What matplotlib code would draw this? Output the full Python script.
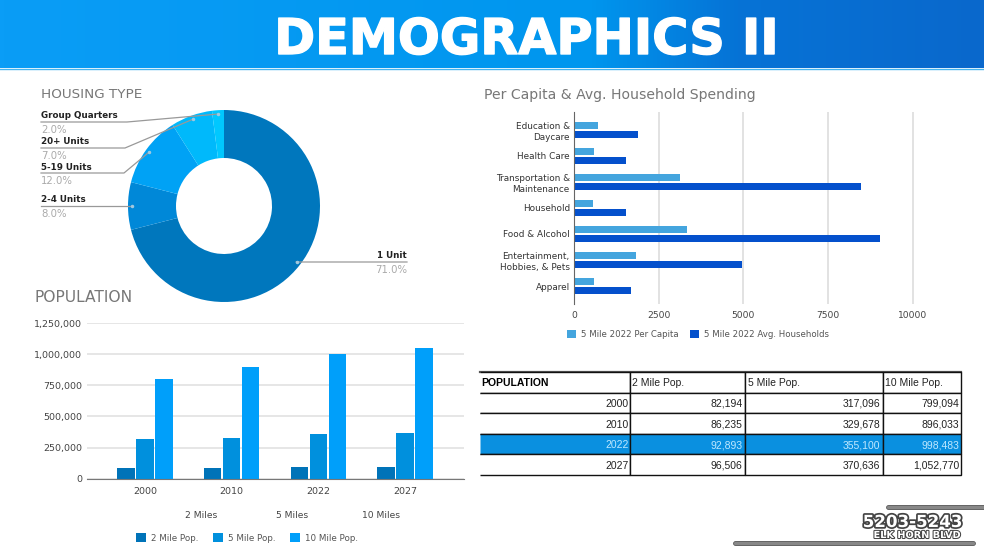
import numpy as np
import matplotlib
matplotlib.use("Agg")
import matplotlib.pyplot as plt
import matplotlib.patheffects as pe
from matplotlib.colors import LinearSegmentedColormap

W, H = 984, 555

# housing type
housing_labels = ["1 Unit", "2-4 Units", "5-19 Units", "20+ Units", "Group Quarters"]
housing_values = [71.0, 8.0, 12.0, 7.0, 2.0]
housing_colors = ["#0077bd", "#0088d8", "#00a2f5", "#00b9fb", "#00c8ff"]

# spending
spend_labels = ["Education &\nDaycare", "Health Care", "Transportation &\nMaintenance", "Household",
                "Food & Alcohol", "Entertainment,\nHobbies, & Pets", "Apparel"]
per_capita = [700, 580, 3140, 560, 3350, 1840, 600]
avg_households = [1900, 1550, 8480, 1530, 9020, 4950, 1670]

# population
years = ["2000", "2010", "2022", "2027"]
pop_2mi = [82194, 86235, 92893, 96506]
pop_5mi = [317096, 329678, 355100, 370636]
pop_10mi = [799094, 896033, 998483, 1052770]


def px_axes(left, top, right, bottom):
    return fig.add_axes([left / W, 1 - bottom / H, (right - left) / W, (bottom - top) / H])


fig = plt.figure(figsize=(W / 100, H / 100), dpi=100, facecolor="white")
plt.rcParams["font.family"] = "DejaVu Sans"

# header
bg = px_axes(0, 0, W, H)
bg.set_xlim(0, W)
bg.set_ylim(H, 0)
bg.axis("off")
header_cmap = LinearSegmentedColormap.from_list("header", [(0, "#0a9df6"), (0.6, "#0096ee"), (0.75, "#0673d6"), (1, "#0a68cc")])
bg.imshow(np.linspace(0, 1, 256).reshape(1, -1), cmap=header_cmap, extent=(0, W, 68, 0), aspect="auto")
bg.set_xlim(0, W)
bg.set_ylim(H, 0)
bg.axhline(68.5, color="#45b4f0", lw=1)
bg.text(526, 40, "DEMOGRAPHICS II", color="white", fontsize=35.5, fontweight="bold", ha="center", va="center",
        path_effects=[pe.withStroke(linewidth=1, foreground="white")])

# titles
bg.text(41, 94, "HOUSING TYPE", color="#777777", fontsize=9.7, va="center")
bg.text(34, 298, "POPULATION", color="#777777", fontsize=11.2, va="center")
bg.text(484, 95, "Per Capita & Avg. Household Spending", color="#777777", fontsize=10.1, va="center")

# donut
cx, cy, R = 224, 206, 96
ax_pie = px_axes(cx - R, cy - R, cx + R, cy + R)
ax_pie.pie(housing_values, colors=housing_colors, startangle=90, counterclock=False, radius=1,
           wedgeprops={"width": 0.5, "linewidth": 0})
ax_pie.set_xlim(-1, 1)
ax_pie.set_ylim(-1, 1)

# spending bars
ax_spend = px_axes(574, 112, 930, 304)
ypos = np.arange(len(spend_labels))
ax_spend.barh(ypos - 0.165, per_capita, height=0.27, color="#44a5de", label="5 Mile 2022 Per Capita")
ax_spend.barh(ypos + 0.165, avg_households, height=0.27, color="#0450cc", label="5 Mile 2022 Avg. Households")
ax_spend.set_ylim(6 + 18 / 26, -18 / 26)
ax_spend.set_xlim(0, 356 / 338.7 * 10000)
ax_spend.set_xticks([0, 2500, 5000, 7500, 10000])
ax_spend.set_yticks(ypos)
ax_spend.set_yticklabels(spend_labels, fontsize=6.4, color="#333333", linespacing=1.35)
ax_spend.tick_params(axis="x", length=0, labelsize=6.6, labelcolor="#444444", pad=5)
ax_spend.tick_params(axis="y", length=0, pad=3)
ax_spend.grid(axis="x", color="#dddddd", lw=1.2)
ax_spend.set_axisbelow(True)
for s in ["top", "right", "bottom"]:
    ax_spend.spines[s].set_visible(False)
ax_spend.spines["left"].set_color("#666666")
ax_spend.legend(loc="center", bbox_to_anchor=((698 - 574) / 356, -0.16), ncol=2, frameon=False,
                fontsize=6.25, labelcolor="#555555", handlelength=1.1, handleheight=1.1, handletextpad=0.6,
                columnspacing=1.2)

# population bars
ax_pop = px_axes(87, 323, 464, 478.7)
xpos = np.arange(len(years))
step = 19 / 86.7
bar_w = 17.5 / 86.7
ax_pop.bar(xpos - step, pop_2mi, width=bar_w, color="#0073b8", label="2 Mile Pop.")
ax_pop.bar(xpos, pop_5mi, width=bar_w, color="#0090dd", label="5 Mile Pop.")
ax_pop.bar(xpos + step, pop_10mi, width=bar_w, color="#009ffa", label="10 Mile Pop.")
ax_pop.set_xlim(-58 / 86.7, 3 + 59 / 86.7)
ax_pop.set_ylim(0, 1250000)
ax_pop.set_xticks(xpos)
ax_pop.set_xticklabels(years)
ax_pop.set_yticks([0, 250000, 500000, 750000, 1000000, 1250000])
ax_pop.set_yticklabels(["0", "250,000", "500,000", "750,000", "1,000,000", "1,250,000"])
ax_pop.tick_params(axis="both", length=0, labelsize=6.8, labelcolor="#444444")
ax_pop.tick_params(axis="x", pad=6)
ax_pop.tick_params(axis="y", pad=3.5)
ax_pop.grid(axis="y", color="#e2e2e2", lw=1.2)
ax_pop.set_axisbelow(True)
for s in ["top", "right", "left"]:
    ax_pop.spines[s].set_visible(False)
ax_pop.spines["bottom"].set_color("#777777")
ax_pop.legend(loc="center", bbox_to_anchor=((247 - 87) / 377, -0.38), ncol=3, frameon=False, fontsize=6.3,
              labelcolor="#555555", handlelength=1.15, handleheight=1.15, handletextpad=0.6, columnspacing=1.6)

# table
col_edges = np.array([479.5, 630, 745, 883, 961])
ax_tab = px_axes(479.5, 372, 961, 475)
ax_tab.axis("off")
rows = [["POPULATION", "2 Mile Pop.", "5 Mile Pop.", "10 Mile Pop."]]
for i, y in enumerate(years):
    rows.append([y, f"{pop_2mi[i]:,}", f"{pop_5mi[i]:,}", f"{pop_10mi[i]:,}"])
tab = ax_tab.table(cellText=rows, colWidths=list(np.diff(col_edges) / (col_edges[-1] - col_edges[0])), bbox=[0, 0, 1, 1])
tab.auto_set_font_size(False)
for (r, c), cell in tab.get_celld().items():
    cell.set_edgecolor("#111111")
    cell.set_linewidth(1.0)
    if c == 0:
        cell.visible_edges = "TBR"  # no rule down the left side
    txt = cell.get_text()
    txt.set_fontfamily("Liberation Sans")
    txt.set_fontsize(7.5)
    txt.set_color("#222222")
    cell.set_text_props(ha="left" if r == 0 else "right", va="center_baseline")
    cell.PAD = 0.02 if c else 0.01
    if r == 0 and c == 0:
        txt.set_fontweight("bold")
        txt.set_color("black")
    if r == 3:
        cell.set_facecolor("#0a90e0")
        txt.set_color("#bfe8ff")
bg.plot([479.5, 961], [372, 372], color="#555555", lw=1.6)

# footer mark
bg.plot([888, 984], [507, 507], color="#888888", lw=2.4, solid_capstyle="round", path_effects=[pe.withStroke(linewidth=3.5, foreground="#555555")])
bg.plot([735, 973], [543, 543], color="#888888", lw=2.4, solid_capstyle="round", path_effects=[pe.withStroke(linewidth=3.5, foreground="#555555")])
bg.text(912.5, 522, "5203-5243", color="white", fontsize=12, fontweight="bold", ha="center", va="center",
        path_effects=[pe.withStroke(linewidth=2.5, foreground="#444444")])
bg.text(917, 535, "ELK HORN BLVD", color="white", fontsize=7, fontweight="bold", ha="center", va="center",
        path_effects=[pe.withStroke(linewidth=1.5, foreground="#444444")])

# donut leader lines and labels, over everything else
over = px_axes(0, 0, W, H)
over.set_xlim(0, W)
over.set_ylim(H, 0)
over.axis("off")
label_y = {"Group Quarters": 116, "20+ Units": 142, "5-19 Units": 167, "2-4 Units": 200, "1 Unit": 256}
elbow_x = {"Group Quarters": 127, "20+ Units": 125, "5-19 Units": 124, "2-4 Units": 132, "1 Unit": 296}
cum = np.cumsum([0] + housing_values)
for i, name in enumerate(housing_labels):
    theta = 2 * np.pi * (cum[i] + housing_values[i] / 2) / 100
    ax_ = cx + 0.96 * R * np.sin(theta)
    ay_ = cy - 0.96 * R * np.cos(theta)
    ty = label_y[name]
    line_y = ty + 6
    pct = f"{housing_values[i]:.1f}%"
    if name == "1 Unit":
        over.plot([ax_, elbow_x[name], 407], [ay_, line_y, line_y], color="#999999", lw=0.9)
        over.text(407, ty, name, fontsize=6.3, fontweight="bold", color="#222222", ha="right", va="center")
        over.text(407, ty + 14, pct, fontsize=7.3, color="#aaaaaa", ha="right", va="center")
    else:
        over.plot([41, elbow_x[name], ax_], [line_y, line_y, ay_], color="#999999", lw=0.9)
        over.text(41, ty, name, fontsize=6.3, fontweight="bold", color="#222222", va="center")
        over.text(41, ty + 14, pct, fontsize=7.3, color="#aaaaaa", va="center")
    over.plot([ax_], [ay_], "o", ms=1.5, color="#9fc8e0")

# series names under the population chart
for x, s in zip([201, 292, 381], ["2 Miles", "5 Miles", "10 Miles"]):
    over.text(x, 516, s, fontsize=6.6, color="#444444", ha="center", va="center")

fig.savefig("out.png", dpi=100)
